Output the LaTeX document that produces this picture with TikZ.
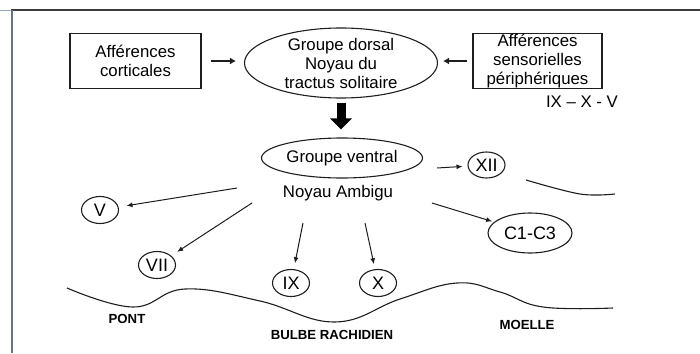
\documentclass[tikz,border=0pt]{standalone}
\usepackage{fontspec}
\setmainfont{Liberation Sans}
\usepackage{xcolor}
\usepackage{tikz}
\usetikzlibrary{arrows.meta,positioning,shapes.geometric}
\definecolor{framedark}{RGB}{60,60,60}
\definecolor{frameblue}{RGB}{100,115,135}
\definecolor{framepale}{RGB}{150,165,185}
\definecolor{ink}{RGB}{30,30,30}
\tikzset{
  every node/.style={font=\fontsize{16.8}{19}\selectfont, text=black},
  box/.style={draw=ink, line width=1.1pt, align=center, inner sep=0pt, minimum width=131pt, minimum height=55pt},
  oval/.style={draw=ink, line width=1.1pt, ellipse, align=center, inner xsep=0pt, inner ysep=-4pt},
  nuc/.style={draw=ink, line width=1.1pt, ellipse, inner sep=0pt, minimum width=37pt, minimum height=27pt,
    font=\fontsize{18}{20}\selectfont},
  zone/.style={font=\bfseries\fontsize{13.2}{15}\selectfont},
  arrow/.style={-{Latex[length=6pt,width=5pt]}, ink, line width=1pt},
  fat/.style={-{Latex[length=6pt,width=7pt]}, ink, line width=2.6pt},
  block/.style={-{Triangle[length=11pt,width=21pt]}, black, line width=9pt},
  border/.style={ink, line width=1.1pt}
}

\begin{document}
\begin{tikzpicture}[x=1pt, y=-1pt]
    \useasboundingbox (0,0) rectangle (700,353);

    % Frame
    \draw[line width=1pt, framepale] (0,11) -- (12,11);
    \draw[line width=2pt, framedark] (11,10) -- (700,10);
    \draw[line width=2pt, frameblue] (12,10) -- (12,353);

    % Nodes
    \node[oval, minimum width=193pt, minimum height=70pt] (dorsal) at (341,63) {Groupe dorsal\\ Noyau du\\ tractus solitaire};
    \node[box] (cortical) at (135.5,61) {Afférences\\ corticales};
    \node[box, minimum width=129pt] (sensory) at (537.5,61) {Afférences\\ sensorielles\\ périphériques};
    \node (nerves) at (582,102) {IX – X - V};
    \node[oval, minimum width=161pt, minimum height=40pt] (ventral) at (342,158) {Groupe ventral};
    \node (ambigu) at (338,193) {Noyau Ambigu};

    \node[nuc] (v) at (100,210) {V};
    \node[nuc] (vii) at (157,265) {VII};
    \node[nuc] (ix) at (291,283) {IX};
    \node[nuc] (x) at (378,283) {X};
    \node[nuc, minimum height=26pt] (xii) at (486.5,165) {XII};
    \node[nuc, minimum width=84pt, minimum height=40pt] (cervical) at (530,233) {C1-C3};

    % Arrows
    \draw[fat, shorten <=9pt, shorten >=8pt] (cortical) -- (cortical -| dorsal.west);
    \draw[fat, shorten <=5pt, shorten >=5pt] (sensory) -- (sensory -| dorsal.east);
    \draw[block, shorten <=4pt, shorten >=8pt] (dorsal.south) -- (dorsal.south |- ventral.north);

    \coordinate (toV) at (237,188);
    \coordinate (toVII) at (252,203);
    \coordinate (toIX) at (303,223);
    \coordinate (toX) at (365,223);
    \coordinate (toXII) at (437,168);
    \coordinate (toC) at (432,203);
    \draw[arrow, shorten >=8pt] (toV) -- (v);
    \draw[arrow, shorten >=7pt] (toVII) -- (vii);
    \draw[arrow, shorten >=6pt] (toIX) -- (ix);
    \draw[arrow, shorten >=5pt] (toX) -- (x);
    \draw[arrow, shorten >=5pt] (toXII) -- (xii);
    \draw[arrow, shorten >=2pt] (toC) -- (cervical);

    % Brainstem outline
    \draw[border] plot[smooth, tension=0.7] coordinates {(67,288) (133,307) (185,289) (260,301) (335,322) (400,299) (457,283) (500,292) (543,307) (613,308)};
    \draw[border] plot[smooth, tension=0.6] coordinates {(526,180) (580,194) (615,194)};

    \node[zone] (pont) at (127,319) {PONT};
    \node[zone] (bulbe) at (332,335) {BULBE RACHIDIEN};
    \node[zone] (moelle) at (527,325) {MOELLE};
  \end{tikzpicture}
\end{document}
